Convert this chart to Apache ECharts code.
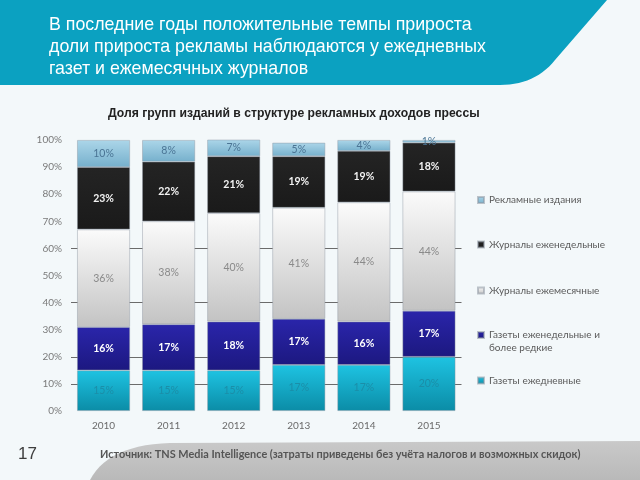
<!DOCTYPE html>
<html>
<head>
<meta charset="utf-8">
<script src="https://cdn.jsdelivr.net/npm/echarts@6/dist/echarts.min.js"></script>
<style>html,body{margin:0;padding:0;background:#f3f8fa;}#c{width:640px;height:480px;}</style>
</head>
<body>
<div id="c"></div>
<script>
const years = ['2010', '2011', '2012', '2013', '2014', '2015'];
const seriesNames = ['Газеты ежедневные', 'Газеты еженедельные и более редкие', 'Журналы ежемесячные', 'Журналы еженедельные', 'Рекламные издания'];
const dailyNews = [15, 15, 15, 17, 17, 20];
const weeklyNews = [16, 17, 18, 17, 16, 17];
const monthlyMag = [36, 38, 40, 41, 44, 44];
const weeklyMag = [23, 22, 21, 19, 19, 18];
const adPubs = [10, 8, 7, 5, 4, 1];
const yTicks = [0, 10, 20, 30, 40, 50, 60, 70, 80, 90, 100];

const chart = echarts.init(document.getElementById('c'), null, {renderer: 'canvas'});
const lg = (c1, c2) => ({type: 'linear', x: 0, y: 0, x2: 0, y2: 1, colorStops: [{offset: 0, color: c1}, {offset: 1, color: c2}]});
const LF = 'Lato, "Open Sans", sans-serif';

function quad(p0, p1, p2, n) {
  const pts = [];
  for (let i = 0; i <= n; i++) {
    const t = i / n, u = 1 - t;
    pts.push([u * u * p0[0] + 2 * u * t * p1[0] + t * t * p2[0], u * u * p0[1] + 2 * u * t * p1[1] + t * t * p2[1]]);
  }
  return pts;
}
const headerPts = [[0, 0], [607, 0]].concat(quad([555, 60], [535, 85], [500, 85], 14)).concat([[0, 85]]);
const footerPts = quad([90, 480], [108, 445], [170, 443], 14).concat([[640, 441], [640, 480]]);

const styles = [
  {color: lg('#1ec3e2', '#0b8ca6'), label: {color: '#1b8ea8', fontWeight: 'normal'}},
  {color: lg('#2a25aa', '#1c1880'), label: {color: '#ffffff', fontWeight: 'bold'}},
  {color: lg('#fbfbfb', '#c3c3c3'), label: {color: '#8a8a8a', fontWeight: 'normal'}},
  {color: lg('#242424', '#1a1a1a'), label: {color: '#f2f2f2', fontWeight: 'bold'}},
  {color: lg('#acd6e9', '#76b0cc'), label: {color: '#4a7494', fontWeight: 'normal'}}
];
const dataSets = [dailyNews, weeklyNews, monthlyMag, weeklyMag, adPubs];

const series = dataSets.map((d, i) => ({
  name: seriesNames[i],
  type: 'bar',
  stack: 'total',
  barWidth: 53,
  zlevel: 1,
  z: 10,
  data: d,
  itemStyle: {color: styles[i].color, borderColor: 'rgba(140,150,160,0.55)', borderWidth: 0.8},
  label: {
    show: true, position: 'inside', formatter: '{c}%',
    fontFamily: LF, fontSize: 10.5,
    color: styles[i].label.color, fontWeight: styles[i].label.fontWeight
  },
  emphasis: {disabled: true}
}));

const legendCenters = [201, 245.5, 291.5, 336, 381.5];
const legendOrder = [4, 3, 2, 1, 0];
const legends = legendOrder.map((si, k) => ({
  data: [seriesNames[si]],
  left: 477,
  top: legendCenters[k] - 6,
  orient: 'vertical',
  padding: 0,
  icon: 'rect',
  itemWidth: 6,
  itemHeight: 6,
  itemGap: 0,
  selectedMode: false,
  formatter: si === 1 ? () => 'Газеты еженедельные и' : '{name}',
  textStyle: {fontFamily: LF, fontSize: 10, color: '#5a5a5a'}
}));

const splitColors = yTicks.map(v => ([10, 20, 40, 60].includes(v) ? '#6b6b6b' : 'rgba(0,0,0,0)'));

chart.setOption({
  backgroundColor: '#f3f8fa',
  animation: false,
  graphic: [
    {type: 'polygon', shape: {points: headerPts}, style: {fill: '#0ba1c1'}, z: 0, silent: true},
    {type: 'polygon', shape: {points: footerPts}, style: {fill: lg('#c9c9c9', '#b9b9b9')}, z: 0, silent: true},
    {type: 'text', left: 49, top: 14, style: {text: 'В последние годы положительные темпы прироста\nдоли прироста рекламы наблюдаются у ежедневных\nгазет и ежемесячных журналов', fill: '#ffffff', font: '17.8px "Liberation Sans", Arial, sans-serif', lineHeight: 22}, z: 5},
    {type: 'text', left: 108, top: 108, style: {text: 'Доля групп изданий в структуре рекламных доходов прессы', fill: '#222222', font: 'bold 12.2px "Liberation Sans", Arial, sans-serif'}, z: 5},
    {type: 'text', left: 18, top: 446, style: {text: '17', fill: '#3d3d3d', font: '17px "Liberation Sans", Arial, sans-serif'}, z: 5},
    {type: 'text', left: 100, top: 449, style: {text: 'Источник: TNS Media Intelligence (затраты приведены без учёта налогов и возможных скидок)', fill: '#555555', font: 'bold 10.9px ' + LF}, z: 5},
    {type: 'text', left: 489, top: 343, style: {text: 'более редкие', fill: '#5a5a5a', font: '10px ' + LF}, z: 5}
  ],
  legend: legends,
  grid: {left: 71, right: 178.5, top: 140, bottom: 69, containLabel: false},
  xAxis: {
    type: 'category', data: years, z: 0,
    axisLine: {show: false}, axisTick: {show: false},
    axisLabel: {color: '#6a6a6a', fontFamily: LF, fontSize: 10, margin: 10}
  },
  yAxis: {
    type: 'value', min: 0, max: 100, interval: 10, z: 0,
    axisLabel: {formatter: '{value}%', color: '#7a7a7a', fontFamily: LF, fontSize: 10, margin: 9},
    axisLine: {show: false}, axisTick: {show: false},
    splitLine: {show: true, lineStyle: {color: splitColors, width: 1}}
  },
  series: series
});
</script>
</body>
</html>
